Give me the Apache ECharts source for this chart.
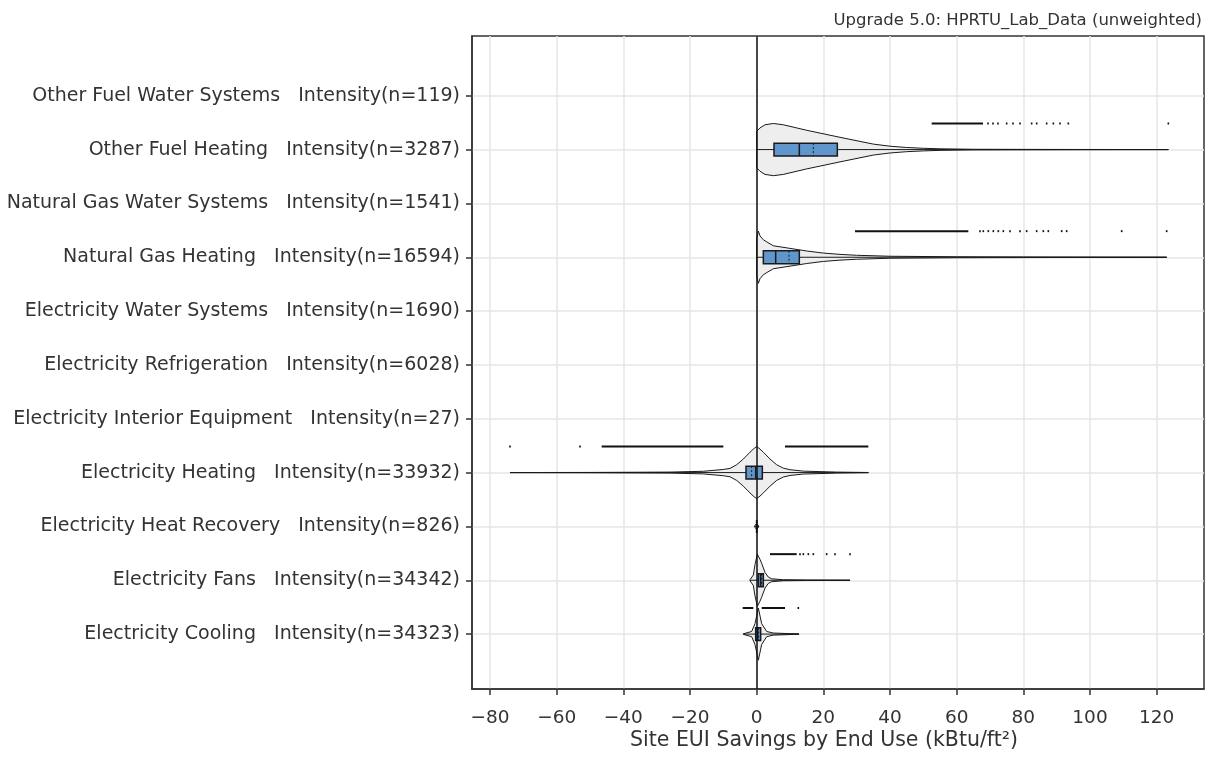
<!DOCTYPE html>
<html><head><meta charset="utf-8">
<script src="https://cdn.jsdelivr.net/npm/echarts@6/dist/echarts.min.js"></script>
<style>html,body{margin:0;padding:0;background:#fff}#c{width:1211px;height:776px}</style>
</head><body><div id="c"></div>
<script>
// ---- categories (bottom to top) ----
const endUses = ['Electricity Cooling', 'Electricity Fans', 'Electricity Heat Recovery', 'Electricity Heating',
  'Electricity Interior Equipment', 'Electricity Refrigeration', 'Electricity Water Systems',
  'Natural Gas Heating', 'Natural Gas Water Systems', 'Other Fuel Heating', 'Other Fuel Water Systems'];
const counts = [34323, 34342, 826, 33932, 27, 6028, 1690, 16594, 1541, 3287, 119];
const xTicks = [-80, -60, -40, -20, 0, 20, 40, 60, 80, 100, 120];

// ---- relative density profiles [value, density (peak = 1)] ----
const densCooling = [[-4, 0.01], [-1.5, 0.1], [-0.5, 0.4], [0.5, 1.0], [1.5, 0.4], [3, 0.1], [5, 0.04], [12.7, 0.005]];
const densFans = [[-2, 0.02], [-1, 0.2], [-0.5, 0.6], [0.2, 1.0], [1, 0.8], [1.5, 0.65], [2.5, 0.3], [3.5, 0.12], [4.5, 0.055], [8, 0.02], [15, 0.01], [28, 0.003]];
const densHeatRecovery = [[-0.6, 0.02], [0, 0.12], [0.6, 0.02]];
const densElecHeating = [[-74, 0.002], [-50, 0.006], [-26, 0.019], [-16, 0.05], [-10, 0.12], [-8, 0.16], [-6, 0.3], [-4, 0.52], [-2, 0.78], [-1, 0.9], [0, 1.0], [1, 0.9], [2, 0.78], [4, 0.52], [6, 0.3], [8, 0.17], [10, 0.11], [14, 0.056], [24, 0.019], [33.5, 0.004]];
const densNGHeating = [[0, 0.72], [0.5, 1.0], [1, 0.82], [2, 0.67], [3, 0.59], [5, 0.44], [10, 0.34], [15, 0.24], [20, 0.16], [25, 0.11], [30, 0.076], [40, 0.038], [60, 0.019], [80, 0.012], [95, 0.008], [123, 0.004]];
const densOFHeating = [[0, 0.70], [1, 0.83], [2.5, 0.95], [5, 1.0], [8, 0.95], [15, 0.74], [25, 0.47], [35, 0.21], [40, 0.13], [45, 0.08], [50, 0.05], [55, 0.03], [65, 0.012], [80, 0.008], [95, 0.005], [110, 0.003], [123.5, 0.002]];

// ---- box stats: [min, q1, median, mean, q3, max] ----
const statsCooling = [-4, -0.3, 0.3, 0.6, 1.2, 12.7];
const statsFans = [-2, 0.5, 1.2, 1.5, 2.0, 28];
const statsHeatRecovery = [-0.6, 0, 0, 0, 0, 0.6];
const statsElecHeating = [-74, -3.2, -0.3, -1.5, 1.7, 33.5];
const statsNGHeating = [0, 2.0, 5.7, 9.7, 12.8, 123];
const statsOFHeating = [0, 5.2, 12.8, 17.0, 24.2, 123.5];

// ---- outliers: dense runs [from, to] and single points ----
const runsCooling = [[-4.2, -1], [1.5, 8.5]];
const ptsCooling = [12.5];
const runsFans = [[4, 12]];
const ptsFans = [13, 14, 15.5, 17, 21, 23.5, 28];
const runsElecHeating = [[-46.5, -10], [8.5, 33.5]];
const ptsElecHeating = [-74, -53];
const runsNGHeating = [[29.5, 63.5]];
const ptsNGHeating = [67, 68, 69.5, 71, 72.5, 74, 76, 79, 81, 84, 86, 87.5, 91.5, 93, 109.5, 123];
const runsOFHeating = [[52.5, 67.9]];
const ptsOFHeating = [69.4, 70.9, 72.4, 75, 76.9, 79, 82.5, 84, 87, 89, 91, 93.5, 123.5];

const violins = [
  {cat: 0, dens: densCooling, stats: statsCooling, runs: runsCooling, pts: ptsCooling},
  {cat: 1, dens: densFans, stats: statsFans, runs: runsFans, pts: ptsFans},
  {cat: 2, dens: densHeatRecovery, stats: statsHeatRecovery, runs: [], pts: []},
  {cat: 3, dens: densElecHeating, stats: statsElecHeating, runs: runsElecHeating, pts: ptsElecHeating},
  {cat: 7, dens: densNGHeating, stats: statsNGHeating, runs: runsNGHeating, pts: ptsNGHeating},
  {cat: 9, dens: densOFHeating, stats: statsOFHeating, runs: runsOFHeating, pts: ptsOFHeating}
];

const yLabels = endUses.map((e, i) => e + '   Intensity(n=' + counts[i] + ')');
const HALF = 0.485, BOX = 0.12, PTOFF = 0.485;
const FONT = 'DejaVu Sans, Verdana, sans-serif';

function renderItem(params, api) {
  const v = violins[params.dataIndex];
  const c = v.cat;
  const ch = [];
  const pts = [];
  v.dens.forEach(p => pts.push(api.coord([p[0], c + p[1] * HALF])));
  for (let k = v.dens.length - 1; k >= 0; k--) pts.push(api.coord([v.dens[k][0], c - v.dens[k][1] * HALF]));
  ch.push({type: 'polygon', shape: {points: pts}, style: {fill: '#eeeeee', stroke: '#1a1a1a', lineWidth: 1}});
  const s = v.stats;
  const a = api.coord([s[0], c]), b = api.coord([s[5], c]);
  ch.push({type: 'line', shape: {x1: a[0], y1: a[1], x2: b[0], y2: b[1]}, style: {stroke: '#1a1a1a', lineWidth: 1}});
  const q1t = api.coord([s[1], c + BOX]), q3b = api.coord([s[4], c - BOX]);
  ch.push({type: 'rect', shape: {x: q1t[0], y: q1t[1], width: q3b[0] - q1t[0], height: q3b[1] - q1t[1]},
    style: {fill: '#6096cb', stroke: '#1a1a1a', lineWidth: 1.5}});
  const m1 = api.coord([s[2], c + BOX]), m2 = api.coord([s[2], c - BOX]);
  ch.push({type: 'line', shape: {x1: m1[0], y1: m1[1], x2: m2[0], y2: m2[1]}, style: {stroke: '#1a1a1a', lineWidth: 1.5}});
  const n1 = api.coord([s[3], c + BOX]), n2 = api.coord([s[3], c - BOX]);
  ch.push({type: 'line', shape: {x1: n1[0], y1: n1[1], x2: n2[0], y2: n2[1]}, style: {stroke: '#1a1a1a', lineWidth: 1, lineDash: [2, 2]}});
  v.runs.forEach(r => {
    const p1 = api.coord([r[0], c + PTOFF]), p2 = api.coord([r[1], c + PTOFF]);
    ch.push({type: 'line', shape: {x1: p1[0], y1: p1[1], x2: p2[0], y2: p2[1]}, style: {stroke: '#111', lineWidth: 2}});
  });
  v.pts.forEach(x => {
    const p = api.coord([x, c + PTOFF]);
    ch.push({type: 'rect', shape: {x: p[0] - 0.8, y: p[1] - 1, width: 1.6, height: 2}, style: {fill: '#111'}});
  });
  return {type: 'group', children: ch};
}

const chart = echarts.init(document.getElementById('c'), null, {renderer: 'canvas'});
chart.setOption({
  animation: false,
  backgroundColor: '#fff',
  title: {text: 'Upgrade 5.0: HPRTU_Lab_Data (unweighted)', right: 4, top: 7,
    textStyle: {fontFamily: FONT, fontSize: 16.5, fontWeight: 'normal', color: '#333'}},
  grid: {left: 472, right: 7, top: 36, bottom: 87, show: true, borderColor: '#333', borderWidth: 1.5, backgroundColor: 'transparent'},
  xAxis: {
    type: 'value', min: -85.4, max: 134.2,
    name: 'Site EUI Savings by End Use (kBtu/ft²)', nameLocation: 'middle', nameGap: 41, nameMoveOverlap: false,
    nameTextStyle: {fontFamily: FONT, fontSize: 20.5, color: '#333', padding: [0, 28, 0, 0]},
    axisLine: {show: true, onZero: false, lineStyle: {color: '#333', width: 1.5}},
    axisTick: {show: true, length: 6, customValues: xTicks, lineStyle: {color: '#333', width: 1.5}},
    axisLabel: {customValues: xTicks, fontFamily: FONT, fontSize: 18.5, color: '#333', margin: 20,
      formatter: v => v < 0 ? '\u2212' + Math.abs(v) : String(v)},
    splitLine: {show: true, lineStyle: {color: '#e6e6e6', width: 1.5}}
  },
  yAxis: {
    type: 'value', min: -1.02, max: 11.11,
    axisLine: {show: true, onZero: false, lineStyle: {color: '#333', width: 1.5}},
    axisTick: {show: true, length: 6, customValues: endUses.map((e, i) => i), lineStyle: {color: '#333', width: 1.5}},
    axisLabel: {customValues: endUses.map((e, i) => i), fontFamily: FONT, fontSize: 19, color: '#333', margin: 12,
      formatter: v => yLabels[Math.round(v)] || ''},
    splitLine: {show: true, lineStyle: {color: '#e6e6e6', width: 1.5}}
  },
  series: [
    {type: 'line', data: [], z: 1, silent: true,
      markLine: {silent: true, symbol: 'none', label: {show: false},
        lineStyle: {color: '#111', width: 1.5, type: 'solid'}, data: [{xAxis: 0}]}},
    {type: 'custom', z: 3, renderItem: renderItem, data: violins.map(v => [v.cat]), clip: true}
  ]
});
</script>
</body></html>
